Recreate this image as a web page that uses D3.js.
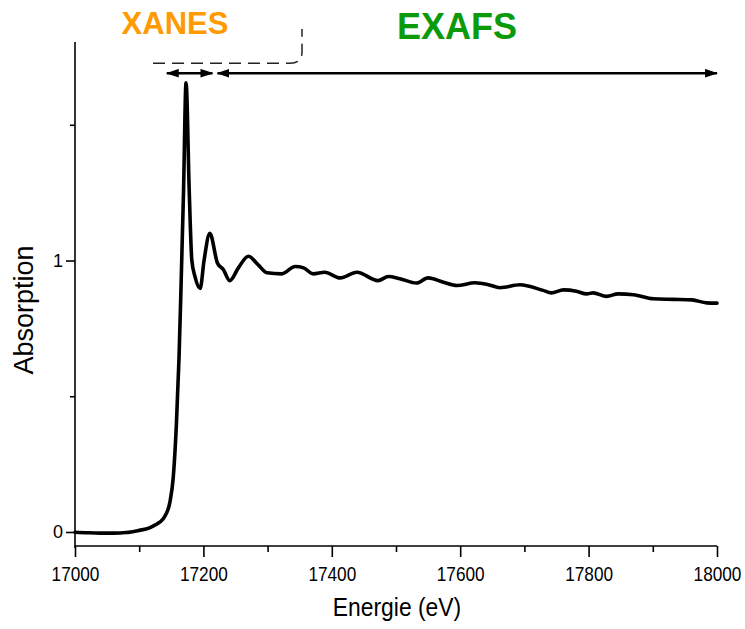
<!DOCTYPE html>
<html>
<head>
<meta charset="utf-8">
<script src="https://cdn.jsdelivr.net/npm/d3@7"></script>
<style>
  body { margin: 0; background: #fff; }
  svg { display: block; }
  .axis path, .axis line { stroke: #000; stroke-width: 1.6; }
  .axis text { font-family: "Liberation Sans", Arial, sans-serif; fill: #000; }
</style>
</head>
<body>
<div id="chart"></div>
<script>
// spectrum
var energy = [17000, 17020, 17040, 17060, 17080, 17100, 17115, 17125, 17132, 17140,
  17148, 17153, 17158, 17162, 17165, 17169, 17173, 17178, 17182, 17187,
  17195, 17201, 17210, 17222, 17231, 17241, 17255, 17270, 17285, 17299,
  17322, 17343, 17356, 17371, 17389, 17413, 17439, 17472, 17488, 17506,
  17532, 17550, 17574, 17595, 17623, 17644, 17662, 17693, 17729, 17742,
  17761, 17781, 17797, 17807, 17828, 17846, 17870, 17901, 17932, 17961,
  17984, 18000];
var absorption = [-0.001, -0.003, -0.004, -0.004, -0.002, 0.006, 0.014, 0.026, 0.036, 0.058,
  0.112, 0.20, 0.40, 0.64, 0.89, 1.25, 1.655, 1.25, 1.00, 0.94,
  0.897, 1.0, 1.10, 0.99, 0.967, 0.926, 0.975, 1.016, 0.985, 0.955,
  0.951, 0.978, 0.973, 0.951, 0.957, 0.936, 0.957, 0.926, 0.941, 0.933,
  0.917, 0.936, 0.920, 0.908, 0.918, 0.911, 0.900, 0.911, 0.890, 0.881,
  0.892, 0.887, 0.877, 0.881, 0.868, 0.877, 0.874, 0.859, 0.857, 0.855,
  0.844, 0.843];

// axis ticks
var xTicks = d3.range(17000, 18001, 100);
var xLabels = [17000, 17200, 17400, 17600, 17800, 18000];
var yTicks = [0, 0.5, 1, 1.5];
var yLabels = [0, 1];

// region labels and their arrows (energy from / to)
var regions = ["XANES", "EXAFS"];
var regionFrom = [17143, 17222];
var regionTo = [17214, 18000];
var regionDouble = [true, false];
var regionColor = ["#ff9a00", "#0a9a0a"];
var arrowLevel = 1.69;

var W = 745, H = 629;

var x = d3.scaleLinear().domain([17000, 18000]).range([75, 717]);
var y = d3.scaleLinear().domain([-0.0516, 1.805]).range([546, 42]);

var svg = d3.select("#chart").append("svg")
  .attr("width", W)
  .attr("height", H);

var defs = svg.append("defs");
defs.append("marker")
  .attr("id", "head")
  .attr("viewBox", "0 0 12 8")
  .attr("refX", 11).attr("refY", 4)
  .attr("markerUnits", "userSpaceOnUse")
  .attr("markerWidth", 13).attr("markerHeight", 9)
  .attr("orient", "auto-start-reverse")
  .append("path")
  .attr("d", "M0,0L12,4L0,8Z")
  .attr("fill", "#000");

// x axis
var xAxis = svg.append("g")
  .attr("class", "axis")
  .attr("transform", "translate(0," + y.range()[0] + ")")
  .call(d3.axisBottom(x)
    .tickValues(xTicks)
    .tickSize(11)
    .tickPadding(9)
    .tickFormat(function(d) { return xLabels.indexOf(d) >= 0 ? d : ""; }));
xAxis.select(".domain").attr("d", "M75,0H717");
xAxis.selectAll(".tick")
  .filter(function(d) { return xLabels.indexOf(d) < 0; })
  .select("line").attr("y2", 6);
xAxis.selectAll(".tick text")
  .attr("font-size", 21)
  .attr("transform", "scale(0.82,1)");

// y axis
var yAxis = svg.append("g")
  .attr("class", "axis")
  .attr("transform", "translate(" + x.range()[0] + ",0)")
  .call(d3.axisLeft(y)
    .tickValues(yTicks)
    .tickSize(9)
    .tickPadding(3)
    .tickFormat(function(d) { return yLabels.indexOf(d) >= 0 ? d : ""; }));
yAxis.select(".domain").attr("d", "M0,42V" + (y.range()[0] + 2));
yAxis.selectAll(".tick")
  .filter(function(d) { return yLabels.indexOf(d) < 0; })
  .select("line").attr("x2", -5);
yAxis.selectAll(".tick text").attr("font-size", 18);

// axis titles
svg.append("text")
  .attr("x", 0).attr("y", 0)
  .attr("transform", "translate(397,616) scale(0.88,1)")
  .attr("text-anchor", "middle")
  .attr("font-family", "Liberation Sans, Arial, sans-serif")
  .attr("font-size", 26)
  .text("Energie (eV)");

svg.append("text")
  .attr("transform", "translate(33,310) rotate(-90)")
  .attr("text-anchor", "middle")
  .attr("font-family", "Liberation Sans, Arial, sans-serif")
  .attr("font-size", 27)
  .text("Absorption");

// spectrum
var line = d3.line()
  .x(function(d) { return x(d[0]); })
  .y(function(d) { return y(d[1]); })
  .curve(d3.curveMonotoneX);

svg.append("path")
  .datum(d3.zip(energy, absorption))
  .attr("d", line)
  .attr("fill", "none")
  .attr("stroke", "#000")
  .attr("stroke-width", 3.6)
  .attr("stroke-linejoin", "round")
  .attr("stroke-linecap", "round");

// leftover dashed frame from the original figure
svg.append("path")
  .attr("d", "M153," + (y(arrowLevel) - 10) + "H290Q302," + (y(arrowLevel) - 10) + " 302,52V29")
  .attr("fill", "none")
  .attr("stroke", "#222")
  .attr("stroke-width", 1.5)
  .attr("stroke-dasharray", "12,7");

// region arrows
regions.forEach(function(r, i) {
  var a = svg.append("line")
    .attr("x1", x(regionFrom[i])).attr("x2", x(regionTo[i]))
    .attr("y1", y(arrowLevel)).attr("y2", y(arrowLevel))
    .attr("stroke", "#000")
    .attr("stroke-width", 2.4)
    .attr("marker-end", "url(#head)")
    .attr("marker-start", "url(#head)");
});

// region labels
svg.append("text")
  .attr("x", 175).attr("y", 34)
  .attr("text-anchor", "middle")
  .attr("font-family", "Liberation Sans, Arial, sans-serif")
  .attr("font-weight", "bold")
  .attr("font-size", 31)
  .attr("fill", regionColor[0])
  .text(regions[0]);

svg.append("text")
  .attr("x", 457).attr("y", 38.5)
  .attr("text-anchor", "middle")
  .attr("font-family", "Liberation Sans, Arial, sans-serif")
  .attr("font-weight", "bold")
  .attr("font-size", 36)
  .attr("fill", regionColor[1])
  .text(regions[1]);
</script>
</body>
</html>
